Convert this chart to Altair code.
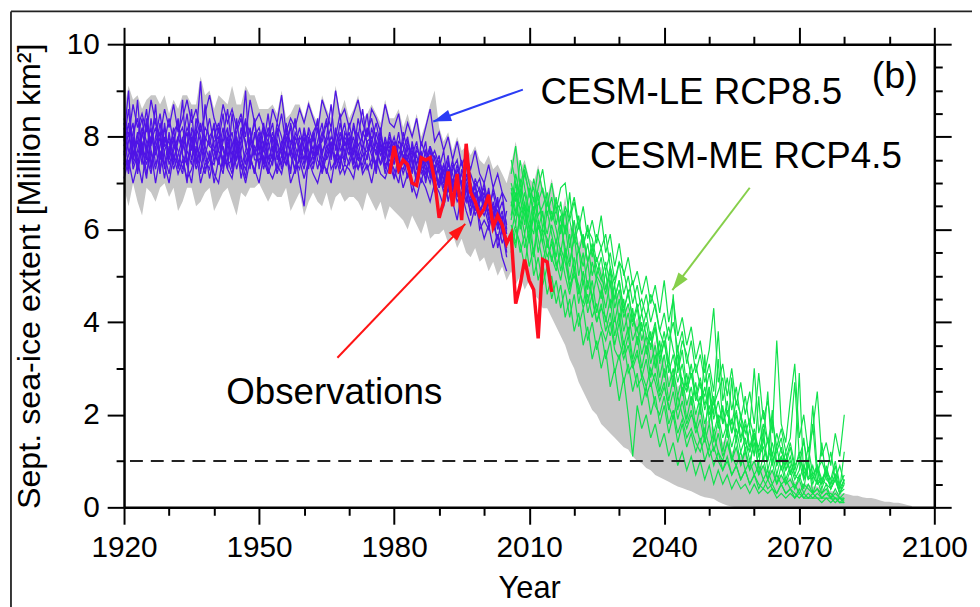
import altair as alt
import pandas as pd

FONT = "Liberation Sans"

# ---------------- data ----------------
band_years = list(range(1920, 2096))
band_upper = [
    8.6, 9.1, 8.8, 8.9, 8.6, 8.8, 8.9, 8.9, 8.7, 8.9,
    8.5, 8.8, 8.6, 8.9, 8.9, 8.7, 8.7, 9.3, 8.9, 9.0,
    8.6, 8.9, 8.8, 8.7, 9.1, 8.7, 8.7, 9.1, 8.9, 8.9,
    8.6, 8.6, 8.6, 8.7, 8.5, 9.0, 8.4, 8.5, 8.7, 8.7,
    8.4, 8.8, 8.5, 8.3, 8.9, 8.6, 8.4, 9.1, 8.5, 8.8,
    8.4, 8.6, 8.9, 8.4, 8.5, 8.7, 8.5, 8.3, 8.8, 8.4,
    8.4, 8.6, 8.2, 8.5, 8.1, 8.5, 8.0, 8.3, 8.7, 9.0,
    8.2, 7.9, 8.1, 7.7, 8.0, 7.7, 7.8, 7.6, 7.8, 7.5,
    7.4, 7.6, 7.3, 7.4, 7.2, 7.0,
    7.4, 7.9, 7.3, 7.5, 7.1, 7.0, 7.4, 6.9, 6.7, 7.1,
    6.6, 6.2, 6.7, 6.0, 6.2, 5.7, 5.9, 5.4, 5.6, 5.1,
    5.2, 4.8, 5.0, 4.5, 4.7, 4.2, 4.4, 3.9, 4.1, 3.7,
    3.8, 3.4, 3.6, 3.1, 3.3, 2.8, 3.0, 2.6, 2.7, 2.3,
    2.4, 2.0, 2.2, 1.8, 1.9, 1.6, 1.7, 1.4, 1.5, 1.2,
    1.3, 1.1, 1.2, 1.0, 1.0, 0.9, 0.9, 0.8, 0.8, 0.7,
    0.7, 0.6, 0.65, 0.55, 0.55, 0.5, 0.5, 0.45, 0.45, 0.4,
    0.4, 0.35, 0.35, 0.3, 0.3, 0.28, 0.25, 0.25, 0.22, 0.2,
    0.2, 0.18, 0.15, 0.12, 0.12, 0.1, 0.1, 0.08, 0.05, 0.03,
]
band_lower = [
    6.9, 6.5, 7.0, 6.6, 6.3, 6.9, 6.8, 6.6, 6.9, 7.0,
    6.7, 6.9, 6.4, 6.6, 6.9, 6.9, 6.5, 6.6, 6.8, 6.9,
    6.4, 6.6, 6.8, 6.9, 6.6, 6.3, 6.8, 6.7, 6.9, 6.9,
    7.0, 6.8, 6.6, 6.8, 6.7, 6.7, 6.9, 6.4, 6.6, 6.8,
    6.3, 6.6, 6.8, 6.6, 6.5, 6.8, 6.4, 6.7, 6.8, 6.6,
    6.7, 6.7, 6.6, 6.4, 6.8, 6.6, 6.4, 6.6, 6.2, 6.5,
    6.4, 6.3, 6.2, 6.0, 6.3, 6.1, 5.9, 6.2, 5.8, 5.9,
    5.9, 6.0, 5.7, 5.9, 5.6, 5.8, 5.5, 5.4, 5.6, 5.3,
    5.4, 5.1, 5.3, 5.0, 5.2, 4.9,
    5.1, 4.8, 5.0, 4.7, 4.9, 4.6, 4.5, 4.3, 4.3, 4.1,
    3.9, 3.7, 3.5, 3.2, 3.0, 2.7, 2.5, 2.3, 2.1, 2.0,
    1.8, 1.7, 1.6, 1.5, 1.4, 1.3, 1.25, 1.1, 1.0, 0.95,
    0.85, 0.8, 0.7, 0.65, 0.6, 0.55, 0.5, 0.45, 0.42, 0.38,
    0.35, 0.3, 0.25, 0.22, 0.2, 0.18, 0.12, 0.08, 0.04, 0.02,
    0, 0, 0, 0, 0, 0, 0, 0, 0, 0,
    0, 0, 0, 0, 0, 0, 0, 0, 0, 0,
    0, 0, 0, 0, 0, 0, 0, 0, 0, 0,
    0, 0, 0, 0, 0, 0, 0, 0, 0, 0,
]

blue_years = list(range(1920, 2006))
blue_01 = [7.9, 8.6, 7.6, 8.1, 7.4, 8.3, 7.8, 8.7, 7.5, 8.0,
           7.6, 8.2, 7.3, 7.9, 8.5, 7.7, 8.1, 7.2, 7.9, 8.4,
           7.8, 7.4, 8.0, 8.6, 7.7, 7.5, 8.2, 7.9, 7.3, 8.1,
           7.7, 8.3, 7.6, 7.4, 8.0, 8.5, 7.8, 7.2, 8.1, 7.9,
           7.5, 8.2, 7.9, 8.4, 7.6, 8.0, 8.7, 7.7, 8.3, 7.8,
           8.1, 7.6, 8.4, 7.9, 7.5, 8.2, 7.8, 7.4, 8.0, 7.6,
           7.9, 7.3, 8.1, 7.7, 7.2, 7.8, 7.5, 7.9, 7.1, 7.6,
           7.3, 7.7, 6.9, 7.4, 7.1, 7.5, 6.8, 7.2, 6.9, 6.6,
           7.0, 6.5, 6.8, 6.3, 6.6, 6.1]
blue_02 = [7.4, 7.9, 8.3, 7.2, 7.8, 7.5, 8.4, 7.6, 8.0, 7.3,
           8.1, 7.5, 7.9, 8.8, 7.4, 8.0, 7.6, 8.3, 7.7, 7.1,
           7.6, 8.2, 7.3, 7.8, 8.1, 7.5, 7.9, 8.4, 7.6, 7.2,
           8.0, 7.4, 7.9, 8.3, 7.5, 7.8, 8.2, 7.6, 7.3, 8.0,
           7.8, 7.3, 8.1, 7.6, 8.0, 8.4, 7.5, 8.2, 7.7, 7.9,
           7.6, 8.3, 7.8, 8.0, 8.5, 7.7, 7.4, 8.1, 7.6, 7.9,
           7.4, 7.8, 7.6, 7.1, 7.9, 7.4, 7.7, 7.0, 7.5, 7.3,
           7.6, 7.0, 7.4, 7.2, 6.7, 7.3, 7.0, 6.5, 7.1, 6.8,
           6.4, 6.9, 6.2, 6.7, 5.9, 6.4]
blue_03 = [8.2, 7.3, 7.8, 8.8, 7.6, 7.1, 8.0, 7.7, 8.3, 7.6,
           7.2, 7.8, 8.4, 7.6, 7.0, 8.2, 7.9, 7.5, 8.7, 7.8,
           8.3, 7.7, 7.5, 7.9, 7.3, 8.4, 7.6, 7.1, 8.0, 7.7,
           7.4, 7.8, 8.5, 7.7, 7.9, 7.3, 7.6, 8.3, 7.8, 7.5,
           8.2, 7.7, 7.4, 7.9, 8.3, 7.5, 7.8, 8.0, 7.3, 8.1,
           7.9, 7.4, 8.0, 8.6, 7.8, 7.3, 8.1, 7.7, 7.5, 8.0,
           7.6, 8.1, 7.4, 7.8, 7.5, 7.0, 7.9, 7.6, 7.3, 6.9,
           7.5, 7.2, 7.6, 6.8, 7.3, 7.0, 7.4, 6.7, 6.9, 7.1,
           6.6, 6.3, 6.9, 6.5, 6.8, 6.0]
blue_04 = [7.6, 8.1, 7.4, 7.7, 8.2, 7.9, 7.3, 8.0, 8.5, 7.8,
           7.9, 7.4, 8.0, 7.7, 8.1, 7.5, 8.0, 9.2, 7.8, 7.5,
           7.4, 7.9, 8.5, 7.6, 7.8, 8.0, 7.3, 7.7, 8.2, 7.6,
           8.1, 7.5, 7.2, 8.0, 7.6, 7.4, 8.1, 7.9, 7.7, 7.0,
           6.5, 7.6, 7.8, 7.3, 7.7, 7.9, 8.2, 7.4, 7.9, 8.3,
           7.7, 8.0, 7.5, 7.8, 8.1, 8.4, 7.9, 7.6, 7.8, 7.3,
           7.8, 7.5, 7.7, 8.0, 7.4, 7.6, 7.2, 7.4, 7.7, 7.1,
           7.0, 7.4, 7.1, 7.5, 6.9, 6.6, 7.2, 6.9, 6.4, 6.7,
           6.9, 6.2, 6.5, 6.0, 6.3, 5.5]
blue_05 = [8.0, 9.0, 7.5, 7.9, 7.6, 8.4, 7.4, 7.8, 7.2, 8.3,
           7.5, 8.0, 7.7, 7.3, 7.8, 8.6, 7.4, 7.9, 7.6, 8.0,
           8.2, 7.5, 7.8, 7.3, 8.5, 7.7, 7.9, 9.0, 7.4, 7.8,
           7.6, 8.1, 7.9, 7.5, 8.2, 7.7, 7.4, 7.8, 8.4, 7.6,
           8.0, 7.4, 7.6, 8.2, 7.4, 7.8, 7.6, 8.0, 8.5, 7.5,
           8.3, 7.8, 7.5, 7.4, 7.9, 8.0, 7.6, 8.2, 7.3, 7.7,
           8.0, 7.6, 7.2, 7.5, 7.8, 7.3, 7.4, 7.2, 7.8, 7.5,
           7.2, 6.8, 7.3, 7.0, 7.4, 6.9, 6.6, 7.0, 6.6, 6.3,
           6.7, 6.8, 6.0, 6.4, 6.1, 5.8]
blue_06 = [7.1, 7.5, 7.0, 7.4, 7.9, 7.2, 7.7, 7.0, 7.6, 7.4,
           7.0, 7.6, 7.2, 7.5, 7.1, 7.3, 7.7, 7.0, 7.4, 7.6,
           7.2, 7.0, 7.6, 7.3, 7.1, 7.7, 7.4, 7.0, 7.5, 7.3,
           7.0, 7.6, 7.3, 7.1, 7.4, 7.2, 7.7, 7.0, 7.3, 7.5,
           7.1, 7.5, 7.2, 7.0, 7.4, 7.3, 7.0, 7.6, 7.2, 7.4,
           7.3, 7.1, 7.7, 7.2, 7.4, 7.0, 7.5, 7.2, 7.1, 7.4,
           7.1, 7.4, 6.9, 7.2, 7.0, 6.7, 7.1, 6.9, 6.6, 7.0,
           6.8, 6.5, 6.9, 6.6, 6.2, 6.8, 6.4, 6.1, 6.5, 6.2,
           5.8, 6.1, 5.6, 5.9, 5.4, 5.1]
blue_07 = [8.4, 8.0, 8.7, 8.2, 8.5, 8.1, 8.8, 8.3, 8.0, 8.6,
           8.2, 8.7, 8.1, 8.4, 8.8, 8.3, 8.6, 8.1, 8.5, 8.9,
           8.4, 8.1, 8.7, 8.3, 8.6, 8.2, 8.5, 8.0, 8.8, 8.3,
           8.5, 8.2, 8.0, 8.6, 8.3, 8.9, 8.1, 8.4, 8.2, 8.6,
           8.3, 8.7, 8.4, 8.1, 8.8, 8.5, 8.2, 9.0, 8.4, 8.6,
           8.2, 8.5, 8.8, 8.3, 8.0, 8.6, 8.4, 8.1, 8.7, 8.3,
           8.2, 8.5, 7.9, 8.3, 8.0, 8.4, 7.8, 8.2, 8.6, 7.9,
           8.1, 7.7, 8.0, 7.5, 7.9, 7.4, 7.6, 7.3, 7.7, 7.2,
           7.0, 7.4, 6.9, 7.2, 6.8, 6.6]
blue_08 = [7.7, 7.2, 8.0, 7.5, 7.0, 7.8, 8.2, 7.4, 7.7, 7.1,
           7.8, 7.3, 7.6, 8.0, 7.4, 7.0, 7.8, 7.5, 7.2, 7.7,
           7.0, 7.5, 7.2, 8.0, 7.6, 7.9, 7.1, 7.6, 7.8, 8.4,
           7.3, 7.9, 7.5, 7.8, 7.2, 7.6, 7.4, 7.7, 7.5, 7.8,
           7.4, 8.0, 7.5, 7.8, 7.2, 7.6, 7.9, 7.3, 7.6, 7.2,
           7.5, 7.8, 7.3, 7.6, 7.7, 7.9, 7.2, 7.9, 7.4, 7.5,
           7.3, 7.0, 7.6, 7.4, 6.8, 7.2, 7.6, 7.3, 7.0, 7.4,
           6.9, 7.3, 6.6, 7.1, 6.8, 6.5, 6.9, 6.3, 6.8, 6.0,
           6.2, 6.0, 6.4, 5.6, 6.0, 5.4]
blue_09 = [8.3, 7.7, 7.5, 8.0, 8.4, 7.6, 7.2, 7.9, 8.1, 7.4,
           7.7, 8.1, 8.3, 7.6, 7.4, 7.8, 8.2, 7.9, 7.3, 7.5,
           8.0, 8.3, 7.7, 7.4, 7.5, 8.1, 8.4, 7.8, 7.6, 7.2,
           7.9, 8.2, 7.4, 7.6, 8.3, 8.0, 7.5, 7.3, 7.8, 8.2,
           7.7, 7.5, 8.1, 8.3, 7.6, 7.2, 7.7, 8.1, 7.9, 7.4,
           7.9, 8.2, 7.7, 7.3, 7.6, 7.9, 8.3, 7.8, 7.2, 7.6,
           7.8, 7.2, 7.5, 7.9, 7.6, 7.1, 7.3, 7.7, 7.4, 6.8,
           7.1, 7.4, 7.0, 6.6, 7.0, 7.2, 6.7, 6.4, 6.8, 6.5,
           6.3, 6.6, 6.1, 5.8, 6.2, 5.6]
blue_10 = [7.3, 7.6, 8.1, 8.4, 7.7, 7.4, 7.9, 8.2, 7.6, 7.9,
           8.4, 7.9, 7.5, 7.2, 7.8, 8.1, 7.5, 7.7, 8.2, 8.0,
           7.5, 7.7, 8.2, 7.5, 7.2, 7.8, 8.0, 7.4, 7.9, 8.3,
           7.8, 7.3, 7.7, 8.1, 7.7, 7.4, 7.9, 8.2, 7.5, 7.3,
           7.9, 8.1, 7.6, 7.7, 8.1, 7.9, 7.3, 7.5, 8.1, 7.7,
           7.4, 7.7, 8.1, 7.7, 7.3, 7.5, 7.9, 7.7, 7.9, 7.2,
           7.5, 7.9, 7.8, 7.3, 7.6, 7.9, 7.3, 7.1, 7.5, 7.7,
           7.4, 7.1, 6.8, 7.3, 7.5, 6.9, 6.6, 7.0, 6.7, 6.9,
           6.5, 6.1, 6.6, 6.2, 5.7, 6.0]
blue_11 = [7.8, 8.3, 7.3, 7.6, 8.0, 8.6, 7.7, 7.3, 7.8, 8.2,
           7.4, 7.7, 8.0, 8.2, 7.7, 7.4, 8.4, 8.0, 7.5, 7.3,
           7.9, 8.0, 7.4, 8.1, 7.9, 7.3, 7.7, 8.3, 8.1, 7.5,
           7.5, 7.7, 8.2, 7.9, 7.3, 7.9, 8.0, 7.6, 8.0, 7.7,
           8.1, 7.6, 7.3, 7.8, 7.9, 8.3, 7.7, 7.6, 7.4, 8.0,
           7.8, 7.3, 7.6, 8.1, 7.9, 7.6, 7.3, 8.0, 7.7, 7.8,
           7.1, 7.6, 7.9, 7.5, 7.3, 7.7, 7.6, 7.4, 7.2, 7.3,
           6.9, 7.3, 7.2, 7.0, 6.6, 6.8, 7.1, 6.8, 6.3, 6.6,
           6.8, 6.4, 6.3, 6.6, 6.0, 5.8]
blue_12 = [7.5, 7.4, 7.9, 7.3, 8.1, 7.7, 8.0, 8.4, 7.3, 7.7,
           8.0, 7.6, 7.4, 7.8, 8.2, 7.9, 7.3, 7.6, 8.0, 7.8,
           7.7, 7.4, 7.9, 8.2, 7.4, 8.0, 7.5, 7.3, 7.7, 8.0,
           8.2, 7.8, 7.2, 7.5, 7.9, 7.6, 8.3, 7.8, 7.2, 7.6,
           7.3, 7.9, 8.0, 7.5, 7.3, 7.7, 8.0, 7.8, 7.5, 7.6,
           8.0, 7.5, 7.3, 7.7, 8.2, 7.8, 7.7, 7.4, 7.6, 8.1,
           7.6, 7.4, 7.3, 7.6, 7.7, 7.4, 7.0, 7.5, 7.8, 7.2,
           7.3, 6.9, 7.5, 6.9, 7.2, 6.6, 6.9, 6.6, 7.0, 6.4,
           6.6, 6.3, 6.5, 6.1, 6.4, 5.9]

green_years = list(range(2006, 2081))
green_01 = [7.2, 7.8, 6.9, 7.4, 7.0, 6.6, 7.3, 6.8, 6.5, 7.0,
            6.4, 6.9, 7.0, 6.2, 6.6, 6.0, 6.5, 5.8, 6.2, 5.7,
            6.3, 5.5, 5.9, 5.2, 5.7, 5.0, 5.4, 4.8, 5.1, 4.6,
            5.0, 4.4, 4.8, 4.2, 4.9, 4.0, 4.5, 3.7, 4.1, 3.5,
            3.9, 3.2, 3.6, 2.9, 3.4, 4.3, 2.7, 3.1, 2.4, 3.0,
            2.2, 2.7, 2.0, 2.5, 1.8, 2.9, 1.9, 2.3, 1.6, 3.6,
            1.8, 1.4, 2.3, 3.1, 1.5, 2.0, 1.2, 1.7, 2.5, 1.1,
            1.4, 0.9, 1.6, 1.1, 2.0]
green_02 = [6.2, 6.8, 6.0, 6.5, 5.7, 6.3, 5.5, 6.0, 5.8, 5.3,
            5.8, 5.1, 5.6, 4.9, 5.4, 4.6, 5.1, 4.4, 4.9, 4.2,
            4.7, 4.0, 4.5, 3.7, 4.2, 3.5, 3.9, 3.2, 3.7, 3.0,
            3.5, 2.8, 3.3, 2.5, 3.0, 2.3, 2.8, 2.1, 2.6, 1.9,
            2.4, 1.7, 2.2, 1.5, 2.6, 1.4, 1.9, 1.2, 1.7, 1.0,
            1.5, 0.9, 1.3, 0.8, 1.6, 0.7, 1.1, 0.6, 1.0, 0.5,
            0.9, 0.5, 0.8, 0.4, 0.7, 0.4, 1.0, 0.3, 0.6, 0.3,
            0.5, 0.2, 0.4, 0.2, 0.3]
green_03 = [6.8, 6.3, 7.1, 6.5, 6.0, 6.7, 6.2, 5.7, 6.4, 5.9,
            5.4, 6.1, 5.6, 5.2, 5.9, 5.0, 5.5, 4.7, 5.3, 4.9,
            4.5, 5.1, 4.3, 4.8, 4.0, 4.5, 3.7, 4.3, 3.5, 4.0,
            3.3, 3.8, 3.0, 3.6, 2.8, 3.2, 2.6, 3.5, 2.4, 2.9,
            2.2, 2.7, 2.0, 3.3, 1.8, 2.4, 1.7, 2.2, 1.5, 2.8,
            1.4, 2.0, 1.2, 1.7, 1.1, 2.4, 1.0, 1.5, 0.9, 1.3,
            0.8, 1.2, 0.7, 1.0, 2.9, 0.6, 0.9, 0.5, 0.8, 0.4,
            0.7, 0.4, 0.6, 0.3, 0.5]
green_04 = [5.8, 6.1, 5.5, 5.9, 5.2, 5.6, 4.9, 5.3, 4.6, 5.0,
            4.4, 4.8, 4.1, 4.5, 3.8, 4.2, 3.5, 3.9, 3.2, 3.6,
            3.0, 3.4, 2.6, 3.0, 2.3, 2.8, 2.0, 1.1, 2.2, 1.7,
            2.0, 1.5, 1.8, 1.3, 1.6, 1.1, 1.4, 0.9, 1.2, 0.8,
            1.1, 0.7, 1.0, 0.6, 0.9, 0.5, 0.8, 0.5, 0.7, 0.4,
            0.6, 0.4, 0.5, 0.3, 0.5, 0.3, 0.4, 0.3, 0.4, 0.2,
            0.3, 0.2, 0.3, 0.2, 0.3, 0.2, 0.2, 0.2, 0.2, 0.1,
            0.2, 0.1, 0.2, 0.1, 0.1]
green_05 = [6.5, 7.2, 6.7, 6.1, 6.9, 6.3, 6.8, 6.0, 6.6, 6.2,
            6.7, 5.9, 6.4, 5.6, 6.2, 5.5, 5.9, 5.3, 5.7, 5.0,
            5.4, 4.7, 5.2, 4.5, 4.9, 4.2, 4.7, 4.0, 4.4, 3.8,
            4.2, 3.6, 4.0, 3.3, 3.8, 3.1, 4.6, 2.9, 3.4, 2.6,
            3.1, 2.4, 2.8, 2.2, 2.6, 2.0, 3.2, 1.8, 2.3, 1.6,
            2.1, 1.5, 1.9, 1.3, 1.7, 1.2, 1.5, 1.0, 2.1, 0.9,
            1.3, 0.8, 1.1, 0.7, 1.0, 0.6, 0.9, 1.8, 0.6, 0.5,
            0.8, 0.4, 0.7, 0.3, 0.6]
green_06 = [6.0, 5.6, 6.4, 5.9, 6.5, 5.4, 6.1, 5.7, 5.2, 5.8,
            5.3, 4.9, 5.5, 4.7, 5.2, 4.4, 4.9, 4.2, 4.6, 4.0,
            4.4, 3.8, 4.2, 3.5, 4.0, 3.3, 3.7, 3.1, 3.4, 2.8,
            3.2, 2.6, 2.9, 2.4, 2.7, 2.1, 2.5, 1.9, 2.3, 1.8,
            2.1, 1.6, 1.9, 1.4, 1.8, 1.2, 1.6, 1.1, 1.4, 1.0,
            1.3, 0.9, 1.2, 0.8, 1.0, 0.7, 0.9, 0.6, 0.8, 0.5,
            0.7, 0.5, 0.6, 0.4, 0.6, 0.3, 0.5, 0.3, 0.4, 0.3,
            0.4, 0.2, 0.3, 0.2, 0.2]
green_07 = [7.0, 6.6, 7.5, 6.9, 6.4, 7.1, 6.6, 6.9, 6.3, 6.7,
            6.1, 6.6, 5.9, 6.8, 5.8, 6.3, 5.6, 6.1, 5.4, 5.9,
            5.6, 5.1, 5.5, 4.9, 5.3, 4.6, 5.0, 4.4, 4.8, 4.2,
            4.6, 4.0, 4.4, 3.8, 4.2, 3.6, 4.0, 3.4, 3.8, 3.1,
            3.6, 2.9, 3.3, 2.7, 3.1, 2.5, 3.8, 2.3, 2.8, 2.1,
            2.6, 1.9, 2.4, 1.7, 3.0, 1.6, 2.1, 1.4, 1.9, 1.3,
            1.7, 1.2, 1.5, 2.7, 1.1, 1.4, 0.9, 2.2, 0.8, 1.0,
            0.7, 1.2, 0.6, 0.9, 0.5]
green_08 = [5.5, 6.0, 5.7, 5.2, 5.9, 5.0, 5.4, 4.8, 5.2, 4.5,
            4.9, 4.3, 4.7, 4.1, 4.6, 3.9, 4.3, 3.6, 4.0, 3.4,
            3.8, 3.2, 3.6, 2.9, 3.3, 2.7, 3.1, 2.5, 2.9, 2.2,
            2.6, 2.0, 2.4, 1.8, 2.2, 1.6, 2.0, 1.4, 1.8, 1.3,
            1.6, 1.2, 1.5, 1.0, 1.3, 0.9, 1.2, 0.8, 1.0, 0.7,
            0.9, 0.6, 0.8, 0.5, 0.7, 0.4, 0.6, 0.4, 0.5, 0.3,
            0.5, 0.3, 0.4, 0.2, 0.4, 0.2, 0.3, 0.2, 0.3, 0.2,
            0.3, 0.2, 0.2, 0.1, 0.2]
green_09 = [6.6, 6.1, 6.9, 6.3, 5.8, 6.5, 6.0, 6.4, 5.6, 6.1,
            5.7, 6.3, 5.4, 5.9, 5.1, 5.6, 4.8, 5.3, 4.5, 5.0,
            4.8, 4.3, 4.9, 4.0, 4.5, 3.8, 4.2, 3.6, 3.9, 3.3,
            3.7, 3.1, 3.5, 2.8, 3.3, 2.6, 3.0, 2.4, 2.8, 2.2,
            2.6, 2.0, 2.4, 1.8, 2.2, 1.6, 2.0, 1.5, 1.8, 1.3,
            1.7, 1.2, 1.5, 1.0, 1.4, 0.9, 1.7, 0.8, 1.2, 0.7,
            1.1, 0.6, 0.9, 0.6, 0.8, 1.5, 0.6, 0.9, 0.5, 1.4,
            0.6, 0.5, 0.9, 0.4, 1.2]
green_10 = [6.3, 7.0, 6.4, 6.8, 6.2, 5.9, 6.6, 6.3, 5.9, 6.4,
            6.0, 5.5, 6.1, 5.3, 5.8, 5.6, 5.2, 5.7, 5.0, 5.4,
            5.0, 4.6, 5.1, 4.3, 4.7, 4.1, 4.4, 3.9, 4.3, 3.6,
            4.0, 3.4, 3.9, 3.1, 3.6, 2.9, 3.3, 2.7, 3.1, 2.5,
            2.9, 2.3, 2.7, 2.1, 2.5, 1.9, 2.3, 1.8, 2.1, 1.6,
            2.0, 1.4, 1.8, 1.2, 1.6, 1.1, 1.4, 2.5, 1.0, 1.2,
            1.5, 0.9, 1.3, 0.8, 1.2, 0.7, 1.0, 0.6, 0.9, 0.5,
            0.9, 0.5, 0.7, 0.4, 0.6]
green_11 = [7.5, 7.0, 6.7, 7.2, 6.8, 6.4, 6.9, 7.3, 6.6, 6.2,
            6.6, 6.4, 5.9, 6.3, 6.7, 6.1, 5.7, 6.0, 5.8, 5.3,
            5.6, 5.9, 5.2, 4.8, 5.3, 5.1, 4.6, 4.9, 4.3, 4.5,
            4.1, 4.6, 4.3, 3.8, 3.5, 3.9, 3.4, 3.0, 3.6, 3.3,
            2.8, 3.1, 2.6, 2.4, 2.9, 2.2, 2.5, 2.8, 2.0, 1.8,
            2.3, 2.0, 1.6, 1.9, 1.5, 1.3, 1.8, 1.4, 1.1, 1.6,
            1.2, 1.0, 1.4, 0.9, 1.1, 0.8, 1.3, 0.7, 0.9, 0.6,
            0.8, 0.6, 1.0, 0.5, 0.7]
green_12 = [5.9, 6.4, 6.2, 5.6, 6.0, 6.3, 5.8, 5.3, 5.7, 5.4,
            5.1, 5.6, 5.3, 4.8, 5.0, 4.7, 4.4, 4.9, 4.5, 4.0,
            4.3, 4.1, 3.7, 4.1, 3.6, 3.2, 3.5, 3.0, 3.3, 2.9,
            2.6, 3.0, 2.7, 2.3, 2.6, 2.2, 1.9, 2.4, 2.0, 1.7,
            2.0, 1.8, 1.4, 1.7, 1.3, 1.6, 1.2, 1.0, 1.4, 1.1,
            0.9, 1.2, 0.8, 1.0, 0.7, 0.9, 0.6, 0.8, 0.5, 0.7,
            0.5, 0.6, 0.4, 0.5, 0.3, 0.5, 0.4, 0.3, 0.4, 0.2,
            0.3, 0.3, 0.2, 0.2, 0.15]
green_13 = [6.9, 6.4, 6.6, 7.3, 6.7, 6.9, 6.3, 6.5, 6.8, 6.2,
            6.4, 6.0, 6.5, 6.2, 5.7, 6.1, 5.8, 5.3, 5.6, 5.2,
            4.9, 5.3, 4.8, 4.5, 4.9, 4.3, 4.6, 4.1, 3.8, 4.2,
            3.7, 3.5, 3.9, 3.2, 3.6, 3.0, 2.8, 3.3, 2.7, 2.5,
            2.9, 2.4, 2.2, 2.6, 2.0, 2.3, 1.9, 2.1, 1.7, 1.9,
            1.5, 1.8, 1.4, 1.2, 1.6, 1.1, 1.3, 1.0, 1.4, 0.9,
            1.1, 0.8, 1.0, 0.7, 0.6, 0.9, 0.6, 0.7, 0.5, 0.6,
            0.5, 0.4, 0.6, 0.3, 0.4]
green_14 = [6.1, 5.7, 6.3, 6.6, 6.0, 5.5, 6.2, 5.9, 5.4, 5.7,
            5.2, 5.5, 5.0, 4.6, 5.1, 4.8, 4.3, 4.6, 4.1, 4.4,
            3.9, 3.6, 4.0, 3.4, 3.2, 3.6, 2.9, 3.1, 2.6, 2.8,
            2.4, 2.7, 2.2, 2.0, 2.4, 1.8, 2.1, 1.6, 1.9, 1.5,
            1.7, 1.4, 1.2, 1.5, 1.1, 1.3, 1.0, 0.8, 1.1, 0.7,
            0.9, 0.6, 0.8, 0.5, 0.7, 0.5, 0.4, 0.6, 0.4, 0.3,
            0.5, 0.3, 0.4, 0.3, 0.2, 0.3, 0.2, 0.3, 0.2, 0.2,
            0.2, 0.2, 0.1, 0.2, 0.1]

obs_years = list(range(1979, 2016))
obs_extent = [7.2, 7.8, 7.3, 7.5, 7.4, 7.0, 6.95, 7.55, 7.5, 7.55,
              7.05, 6.25, 6.6, 7.25, 6.5, 7.2, 6.2, 7.85, 6.8, 6.6,
              6.3, 6.45, 6.75, 6.05, 6.3, 6.1, 5.7, 5.9, 4.4, 4.8,
              5.35, 4.9, 4.7, 3.65, 5.35, 5.3, 4.65]

threshold = [1.0]

x_tick_values = [1920, 1930, 1940, 1950, 1960, 1970, 1980, 1990, 2000, 2010,
                 2020, 2030, 2040, 2050, 2060, 2070, 2080, 2090, 2100]
y_tick_values = [0, 0.5, 1, 1.5, 2, 2.5, 3, 3.5, 4, 4.5, 5, 5.5, 6, 6.5, 7,
                 7.5, 8, 8.5, 9, 9.5, 10]

label_text = ["CESM-LE RCP8.5", "CESM-ME RCP4.5", "Observations"]
label_x = [2012.5, 2023.5, 1942.7]
label_y = [8.715, 7.32, 2.227]

panel_text = ["(b)"]
panel_x = [2086.1]
panel_y = [9.06]

arrow_x1 = [2008.6, 1967.4, 2059.0]
arrow_y1 = [9.02, 3.23, 6.90]
arrow_x2 = [1988.7, 1995.8, 2041.8]
arrow_y2 = [8.33, 6.12, 4.69]
arrow_color = ["#2b3cf5", "#ff1414", "#86cf4a"]
arrow_angle = [250, 44, 217]

# ---------------- tables ----------------
band_df = pd.DataFrame({"year": band_years, "lower": band_lower, "upper": band_upper})

blue_members = [blue_01, blue_02, blue_03, blue_04, blue_05, blue_06,
                blue_07, blue_08, blue_09, blue_10, blue_11, blue_12]
blue_df = pd.concat(
    [pd.DataFrame({"year": blue_years, "v": m, "member": i}) for i, m in enumerate(blue_members)],
    ignore_index=True)

green_members = [green_01, green_02, green_03, green_04, green_05, green_06, green_07,
                 green_08, green_09, green_10, green_11, green_12, green_13, green_14]
green_df = pd.concat(
    [pd.DataFrame({"year": green_years, "v": m, "member": i}) for i, m in enumerate(green_members)],
    ignore_index=True)

obs_df = pd.DataFrame({"year": obs_years, "v": obs_extent})
thr_df = pd.DataFrame({"v": threshold})
lab_df = pd.DataFrame({"x": label_x, "y": label_y, "t": label_text})
pan_df = pd.DataFrame({"x": panel_x, "y": panel_y, "t": panel_text})
arr_df = pd.DataFrame({"x1": arrow_x1, "y1": arrow_y1, "x2": arrow_x2, "y2": arrow_y2,
                       "c": arrow_color, "a": arrow_angle})

# ---------------- scales & axes ----------------
xscale = alt.Scale(domain=[1920, 2100], nice=False, zero=False)
yscale = alt.Scale(domain=[0, 10], nice=False, zero=False)

x_major = "(datum.value - 1920) % 30 == 0"
y_major = "datum.value % 2 == 0"
x_tick = {"condition": {"test": x_major, "value": 17}, "value": 8}
y_tick = {"condition": {"test": y_major, "value": 17}, "value": 8}

common = dict(domainColor="black", domainWidth=2.5, tickColor="black", tickWidth=2,
              grid=False, zindex=2, labelFont=FONT, labelColor="black",
              labelFontSize=30, titleFont=FONT, titleColor="black",
              titleFontWeight="normal")

ax_bottom = alt.Axis(orient="bottom", values=x_tick_values, format="d",
                     labelExpr=f"{x_major} ? datum.label : ''",
                     tickSize=x_tick, labelPadding=33, labelBaseline="alphabetic",
                     labelFlush=False, labelOverlap=False,
                     title="Year", titleFontSize=31, titleX=408.5, titleY=91,
                     titleAlign="center", titleBaseline="alphabetic", **common)
ax_left = alt.Axis(orient="left", values=y_tick_values, format="d",
                   labelExpr=f"{y_major} ? datum.label : ''",
                   tickSize=y_tick, labelPadding=8, labelOverlap=False, labelFlush=False,
                   title="Sept. sea-ice extent [Million km²]", titleFontSize=32.5,
                   titleAngle=270, titleX=-95, titleY=233.5, titleAlign="center",
                   titleBaseline="middle", **common)
ax_top = alt.Axis(orient="top", values=x_tick_values, labels=False, tickSize=x_tick,
                  title=None, **common)
ax_right = alt.Axis(orient="right", values=y_tick_values, labels=False, tickSize=y_tick,
                    title=None, **common)

# ---------------- layers ----------------
band = alt.Chart(band_df).mark_area(color="#c6c6c6", strokeWidth=0).encode(
    x=alt.X("year:Q", scale=xscale, axis=ax_bottom),
    y=alt.Y("lower:Q", scale=yscale, axis=ax_left),
    y2="upper:Q")

blue = alt.Chart(blue_df).mark_line(color="#4f14e6", strokeWidth=1.3).encode(
    x=alt.X("year:Q", scale=xscale, axis=ax_top),
    y=alt.Y("v:Q", scale=yscale, axis=ax_right),
    detail="member:N")

green = alt.Chart(green_df).mark_line(color="#10e24c", strokeWidth=1.2).encode(
    x=alt.X("year:Q", axis=None),
    y=alt.Y("v:Q", axis=None),
    detail="member:N")

dashed = alt.Chart(thr_df).mark_rule(color="#222222", strokeWidth=2, strokeDash=[13, 8]).encode(
    y=alt.Y("v:Q", axis=None))

obs = alt.Chart(obs_df).mark_line(color="#ff0d1f", strokeWidth=3.5).encode(
    x=alt.X("year:Q", axis=None),
    y=alt.Y("v:Q", axis=None))

arrows = alt.Chart(arr_df).mark_rule(strokeWidth=2).encode(
    x=alt.X("x1:Q", axis=None), y=alt.Y("y1:Q", axis=None),
    x2="x2:Q", y2="y2:Q",
    color=alt.Color("c:N", scale=None))

heads = alt.Chart(arr_df).mark_point(shape="M0,0L0.65,2L-0.65,2Z", filled=True,
                                     size=324, opacity=1, strokeWidth=0).encode(
    x=alt.X("x2:Q", axis=None), y=alt.Y("y2:Q", axis=None),
    angle=alt.Angle("a:Q", scale=None),
    color=alt.Color("c:N", scale=None))

labels = alt.Chart(lab_df).mark_text(font=FONT, fontSize=37, align="left",
                                     baseline="alphabetic", color="black").encode(
    x=alt.X("x:Q", axis=None), y=alt.Y("y:Q", axis=None), text="t:N")

panel = alt.Chart(pan_df).mark_text(font=FONT, fontSize=38, align="left",
                                    baseline="alphabetic", color="black").encode(
    x=alt.X("x:Q", axis=None), y=alt.Y("y:Q", axis=None), text="t:N")

border_top = alt.Chart(thr_df).mark_rule(color="#222222", strokeWidth=1.8).encode(
    x=alt.value(-114), x2=alt.value(880), y=alt.value(-33))
border_left = alt.Chart(thr_df).mark_rule(color="#222222", strokeWidth=1.8).encode(
    x=alt.value(-114), y=alt.value(-33), y2=alt.value(600))

chart = alt.layer(
    band, blue, green, dashed, obs, arrows, heads, labels, panel, border_top, border_left
).resolve_axis(x="independent", y="independent").properties(
    width=817, height=467,
    padding={"left": 117, "top": 34, "right": 38, "bottom": 99},
    autosize=alt.AutoSizeParams(type="none"),
    background="white",
).configure_view(stroke=None).configure(font=FONT)

chart.save("out.html", embed_options={"renderer": "svg", "actions": False})
